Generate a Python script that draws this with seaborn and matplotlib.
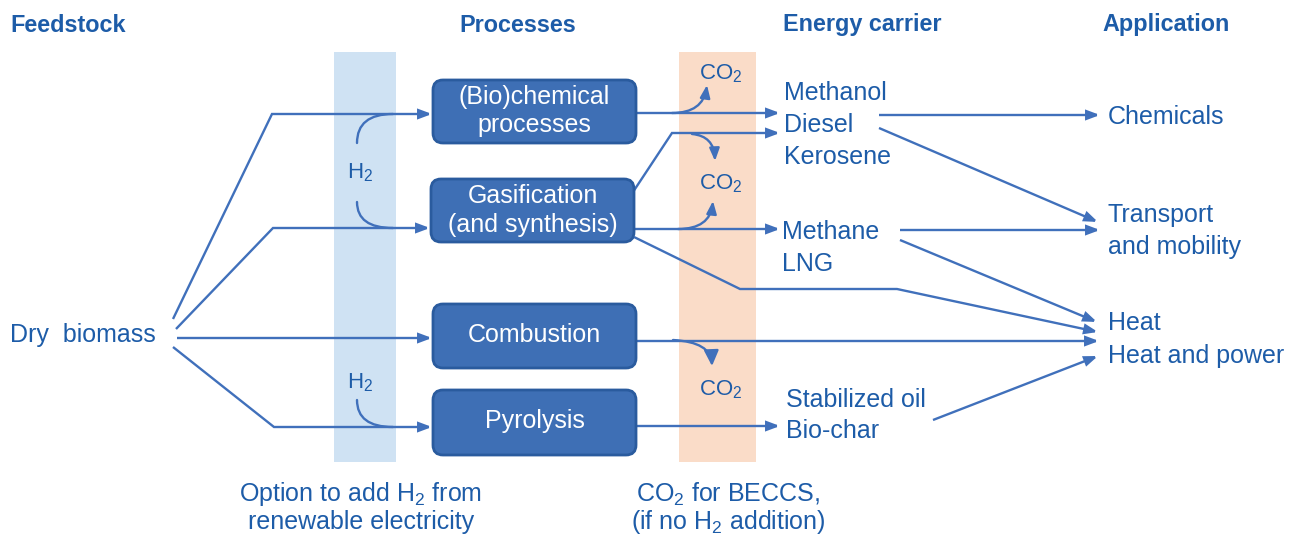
import matplotlib
matplotlib.use("Agg")
import matplotlib.pyplot as plt
import seaborn as sns
from matplotlib.path import Path
from matplotlib.patches import FancyArrowPatch, FancyBboxPatch, Rectangle

# ---------------- data (texts) ----------------
headers = ["Feedstock", "Processes", "Energy carrier", "Application"]
feedstock = ["Dry  biomass"]
processes = [["(Bio)chemical", "processes"], ["Gasification", "(and synthesis)"],
             ["Combustion"], ["Pyrolysis"]]
carriers = [["Methanol", "Diesel", "Kerosene"], ["Methane", "LNG"],
            ["Stabilized oil", "Bio-char"]]
applications = [["Chemicals"], ["Transport", "and mobility"], ["Heat", "Heat and power"]]
h2_label = "H$_2$"
co2_label = "CO$_2$"
caption_h2 = ["Option to add H$_2$ from", "renewable electricity"]
caption_co2 = ["CO$_2$ for BECCS,", "(if no H$_2$ addition)"]

# ---------------- style ----------------
sns.set_theme(style="white")
plt.rcParams["font.family"] = ["Liberation Sans", "DejaVu Sans"]
plt.rcParams["mathtext.fontset"] = "custom"
plt.rcParams["mathtext.rm"] = "Liberation Sans"
plt.rcParams["mathtext.it"] = "Liberation Sans:italic"
plt.rcParams["mathtext.bf"] = "Liberation Sans:bold"

TXT = "#1d5ca8"
LINE = "#4070bb"
BOX = "#3e6fb5"
BOXEDGE = "#2a5b9e"
BAND_H2 = "#cfe2f3"
BAND_CO2 = "#fadcc8"
FS = 18
FS_HEAD = 16.8
FS_SMALL = 16
LW = 1.7

# ---------------- layout (pixel coords) ----------------
header_pos = [(10, 25, "left"), (518, 25, "center"), (862, 25, "center"), (1166, 25, "center")]
box_pos = [(433, 80, 203, 63), (431, 179, 203, 63), (433, 304, 203, 64), (433, 390, 203, 65)]
box_line_y = [[97, 125], [196, 225], [335], [421]]
carrier_pos = [(784, [93, 125, 157]), (782, [232, 264]), (786, [400, 431])]
app_pos = [(1108, [117]), (1108, [215, 247]), (1108, [323, 356])]

fig = plt.figure(figsize=(13, 5.34), dpi=100)
ax = fig.add_axes([0, 0, 1, 1])
ax.set_xlim(0, 1300)
ax.set_ylim(534, 0)
ax.axis("off")

# bands
ax.add_patch(Rectangle((334, 52), 62, 410, facecolor=BAND_H2, edgecolor="none", zorder=0))
ax.add_patch(Rectangle((679, 52), 77, 410, facecolor=BAND_CO2, edgecolor="none", zorder=0))

# headers
for (x, y, ha), h in zip(header_pos, headers):
    ax.text(x, y, h, ha=ha, va="center", fontsize=FS_HEAD, fontweight="bold", color=TXT)

# feedstock
ax.text(10, 335, feedstock[0], ha="left", va="center", fontsize=FS, color=TXT)

# process boxes
for (x, y, w, h), lines, ys in zip(box_pos, processes, box_line_y):
    ax.add_patch(FancyBboxPatch((x, y), w, h, boxstyle="round,pad=0,rounding_size=10",
                                facecolor=BOX, edgecolor=BOXEDGE, linewidth=2, zorder=3))
    for t, yy in zip(lines, ys):
        ax.text(x + w / 2, yy, t, ha="center", va="center", fontsize=FS, color="white", zorder=4)

# carriers and applications
for (x, ys), lines in zip(carrier_pos, carriers):
    for t, yy in zip(lines, ys):
        ax.text(x, yy, t, ha="left", va="center", fontsize=FS, color=TXT)
for (x, ys), lines in zip(app_pos, applications):
    for t, yy in zip(lines, ys):
        ax.text(x, yy, t, ha="left", va="center", fontsize=FS, color=TXT)


def poly(pts, arrow=True, scale=10, z=2):
    codes = [Path.MOVETO] + [Path.LINETO] * (len(pts) - 1)
    style = "-|>,head_length=0.75,head_width=0.28" if arrow else "-"
    p = FancyArrowPatch(path=Path(pts, codes), arrowstyle=style, mutation_scale=scale,
                        color=LINE, linewidth=LW, shrinkA=0, shrinkB=0, zorder=z,
                        joinstyle="miter", capstyle="butt")
    ax.add_patch(p)


def curve(p0, c, p1, arrow=True, scale=10, hl=0.75, hw=0.3):
    style = f"-|>,head_length={hl},head_width={hw}" if arrow else "-"
    p = FancyArrowPatch(path=Path([p0, c, p1], [Path.MOVETO, Path.CURVE3, Path.CURVE3]),
                        arrowstyle=style, mutation_scale=scale, color=LINE, linewidth=LW,
                        shrinkA=0, shrinkB=0, zorder=2)
    ax.add_patch(p)


# feedstock -> processes
poly([(173, 319), (272, 114), (432, 114)])
poly([(176, 329), (273, 228), (430, 228)])
poly([(177, 338), (432, 338)])
poly([(173, 347), (274, 427), (432, 427)])

# H2 inflows
curve((357, 143), (357, 114), (393, 114), arrow=False)
curve((357, 202), (357, 228), (393, 228), arrow=False)
curve((357, 400), (357, 427), (393, 427), arrow=False)
ax.text(360, 173, h2_label, ha="center", va="center", fontsize=FS_SMALL, color=TXT)
ax.text(360, 383, h2_label, ha="center", va="center", fontsize=FS_SMALL, color=TXT)

# processes -> carriers
poly([(636, 113), (780, 113)])
poly([(633, 192), (672, 133), (780, 133)])
poly([(634, 229), (780, 229)])
poly([(634, 237), (740, 289), (897, 289), (1098, 332)])
poly([(636, 341), (1099, 341)])
poly([(636, 426), (780, 426)])

# CO2 branches
curve((672, 113), (703, 113), (707, 85))
curve((692, 134), (714, 136), (715, 161))
curve((678, 229), (710, 229), (713, 201))
curve((673, 340), (711, 342), (712, 366), scale=11, hl=0.85, hw=0.4)
for yy in (74, 184, 390):
    ax.text(721, yy, co2_label, ha="center", va="center", fontsize=FS_SMALL, color=TXT)

# carriers -> applications
poly([(879, 115), (1100, 115)])
poly([(879, 128), (1098, 222)])
poly([(900, 230), (1100, 230)])
poly([(900, 240), (1097, 322)])
poly([(933, 420), (1098, 356)])

# captions
for t, yy in zip(caption_h2, (494, 522)):
    ax.text(361, yy, t, ha="center", va="center", fontsize=FS, color=TXT)
for t, yy in zip(caption_co2, (494, 522)):
    ax.text(728, yy, t, ha="center", va="center", fontsize=FS, color=TXT)

fig.savefig("out.png", dpi=100, facecolor="white")
